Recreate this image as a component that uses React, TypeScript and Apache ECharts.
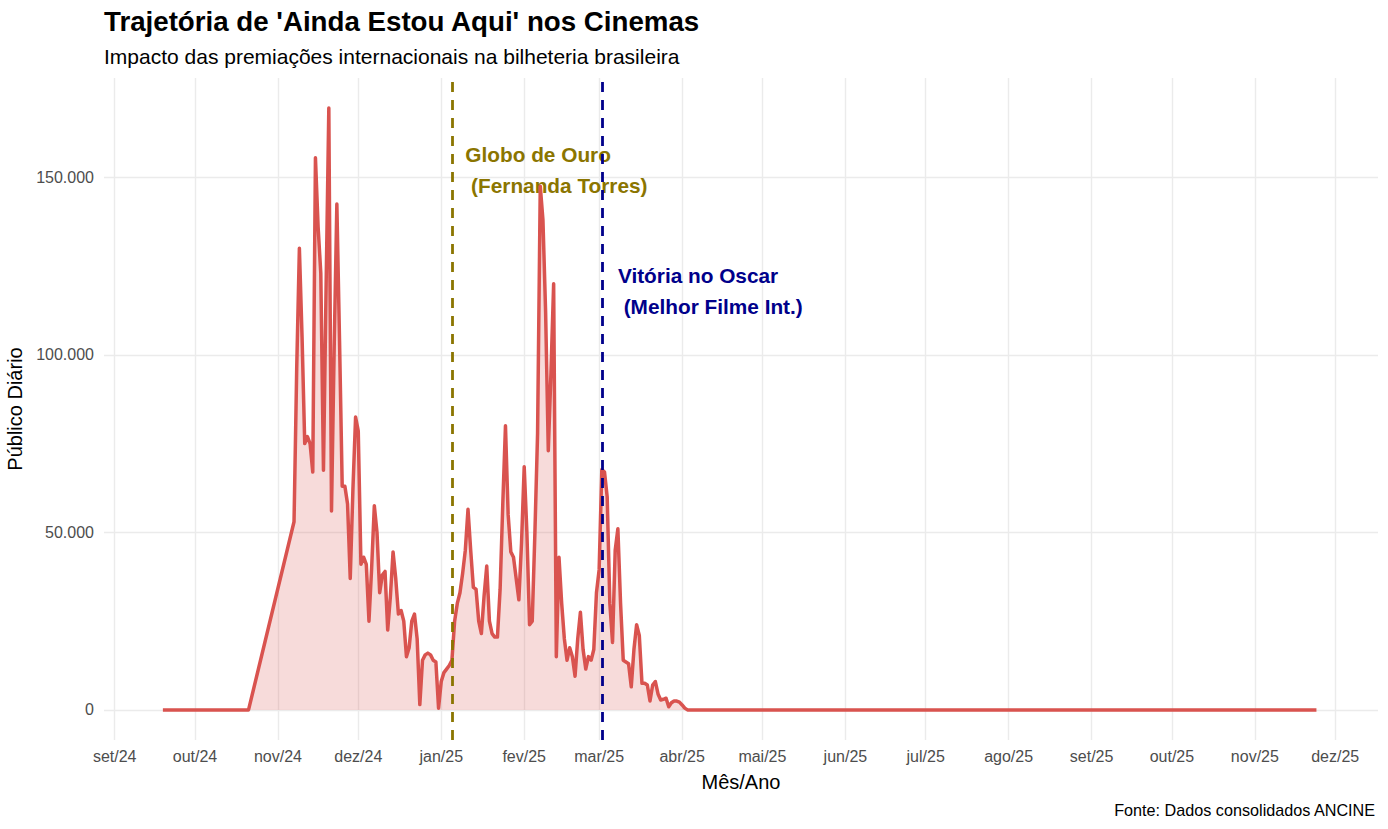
import React, { useEffect, useRef } from 'react';
import * as echarts from 'echarts';

const FONT = "'Liberation Sans', Arial, Helvetica, sans-serif";

// ---- text ----
const titleText = "Trajetória de 'Ainda Estou Aqui' nos Cinemas";
const subtitleText = 'Impacto das premiações internacionais na bilheteria brasileira';
const captionText = 'Fonte: Dados consolidados ANCINE';
const xAxisTitle = 'Mês/Ano';
const yAxisTitle = 'Público Diário';

// ---- ticks ----
const monthAbbr = ['jan', 'fev', 'mar', 'abr', 'mai', 'jun', 'jul', 'ago', 'set', 'out', 'nov', 'dez'];
const xTickDates = [
  '2024-09-01', '2024-10-01', '2024-11-01', '2024-12-01', '2025-01-01', '2025-02-01',
  '2025-03-01', '2025-04-01', '2025-05-01', '2025-06-01', '2025-07-01', '2025-08-01',
  '2025-09-01', '2025-10-01', '2025-11-01', '2025-12-01',
];
const yTicks = [0, 50000, 100000, 150000];
const xRange = ['2024-08-28', '2025-12-17'];
const yRange = [-8475, 177975];

// ---- data: daily audience ----
const preReleaseDates = ['2024-09-19', '2024-10-21'];
const preReleaseValues = [0, 0];

// daily values, first value = start date
const nov2024Start = '2024-11-07';
const nov2024 = [
  53000, 96000, 130000, 105000, 75000, 77000, 75000, 67000, 155500, 136000,
  123000, 67500, 120000, 169500, 56000, 102000, 142500, 104000, 63000, 63000,
  58000, 37000, 62000, 82500,
];
const dec2024Start = '2024-12-01';
const dec2024 = [
  78500, 41000, 43000, 41000, 25000, 40000, 57500, 50000, 33000, 38000,
  39000, 22500, 32000, 44500, 37000, 27000, 28000, 25000, 15000, 17500,
  25000, 27000, 20000, 1500, 14000, 15500, 16000, 15500, 14000, 13500,
  500,
];
const jan2025Start = '2025-01-01';
const jan2025 = [
  8000, 10500, 11500, 12500, 14000, 25000, 30000, 33000, 38500, 45000,
  56500, 45000, 34500, 34000, 25000, 21500, 32000, 40500, 25000, 21500,
  20500, 20500, 34000, 58000, 80000, 55000, 44500, 43000, 37000, 31000,
  47000,
];
const feb2025Start = '2025-02-01';
const feb2025 = [
  68500, 50000, 24000, 25000, 50000, 78000, 147500, 138000, 112000, 73000,
  95000, 120000, 15000, 43000, 30000, 20000, 14000, 17500, 15000, 9500,
  20000, 27500, 17000, 11500, 15000, 14000, 17000, 33000,
];
const mar2025Start = '2025-03-01';
const mar2025 = [
  39500, 67700, 67000, 60000, 30000, 19000, 45000, 51000, 30000, 14000,
  13500, 13000, 6500, 17000, 24000, 21000, 7500, 7500, 7000, 2500,
  7000, 8000, 4500, 2800, 3000, 3300, 900, 2000, 2500, 2500,
  2200,
];
const apr2025Start = '2025-04-01';
const apr2025 = [1400, 500, 0];

const endRunDates = ['2025-11-24'];
const endRunValues = [0];

// ---- events ----
const eventDates = ['2025-01-05', '2025-03-02'];
const eventColors = ['#8B7500', '#00008B'];
const annotationTexts = ['Globo de Ouro\n (Fernanda Torres)', 'Vitória no Oscar\n (Melhor Filme Int.)'];
const annotationDates = ['2025-01-10', '2025-03-08'];
const annotationValues = [152000, 118000];

function toTs(s: string): number {
  const [y, m, d] = s.split('-').map(Number);
  return new Date(y, m - 1, d).getTime();
}

function blockToPoints(start: string, values: number[]): [number, number][] {
  const [y, m, d] = start.split('-').map(Number);
  return values.map((v, i) => [new Date(y, m - 1, d + i).getTime(), v]);
}

function fmtThousands(v: number): string {
  const s = String(Math.round(Math.abs(v)));
  const out = s.replace(/\B(?=(\d{3})+(?!\d))/g, '.');
  return (v < 0 ? '-' : '') + out;
}

function buildSeriesData(): [number, number][] {
  const pts: [number, number][] = [];
  preReleaseDates.forEach((d, i) => pts.push([toTs(d), preReleaseValues[i]]));
  pts.push(...blockToPoints(nov2024Start, nov2024));
  pts.push(...blockToPoints(dec2024Start, dec2024));
  pts.push(...blockToPoints(jan2025Start, jan2025));
  pts.push(...blockToPoints(feb2025Start, feb2025));
  pts.push(...blockToPoints(mar2025Start, mar2025));
  pts.push(...blockToPoints(apr2025Start, apr2025));
  endRunDates.forEach((d, i) => pts.push([toTs(d), endRunValues[i]]));
  return pts;
}

export default function App() {
  const ref = useRef<HTMLDivElement>(null);

  useEffect(() => {
    if (!ref.current) return;
    const chart = echarts.init(ref.current, undefined, { renderer: 'svg' });
    const xTicks = xTickDates.map(toTs);

    const option: any = {
      animation: false,
      backgroundColor: '#ffffff',
      textStyle: { fontFamily: FONT },
      title: [
        {
          text: titleText, left: 104, top: 7, padding: 0,
          textStyle: { fontFamily: FONT, fontSize: 27.7, fontWeight: 'bold', color: '#000000' },
        },
        {
          text: subtitleText, left: 104, top: 46, padding: 0,
          textStyle: { fontFamily: FONT, fontSize: 21, fontWeight: 'normal', color: '#000000' },
        },
        {
          text: captionText, right: 12, top: 802, padding: 0,
          textStyle: { fontFamily: FONT, fontSize: 16.2, fontWeight: 'normal', color: '#000000' },
        },
      ],
      grid: {
        left: 104, right: 10, top: 78, bottom: 89,
        containLabel: false, outerBoundsMode: 'none',
      },
      xAxis: {
        type: 'value',
        min: toTs(xRange[0]),
        max: toTs(xRange[1]),
        name: xAxisTitle,
        nameLocation: 'middle',
        nameGap: 32,
        nameTextStyle: { fontFamily: FONT, fontSize: 20, color: '#000000' },
        axisLine: { show: false },
        axisTick: { show: false, customValues: xTicks },
        axisLabel: {
          customValues: xTicks,
          margin: 8,
          fontFamily: FONT,
          fontSize: 16,
          color: '#4D4D4D',
          formatter: (val: number) => {
            const d = new Date(val);
            return monthAbbr[d.getMonth()] + '/' + String(d.getFullYear()).slice(2);
          },
        },
        splitLine: { show: true, lineStyle: { color: '#EBEBEB', width: 1.4 } },
      },
      yAxis: {
        type: 'value',
        min: yRange[0],
        max: yRange[1],
        name: yAxisTitle,
        nameLocation: 'middle',
        nameGap: 65,
        nameTextStyle: { fontFamily: FONT, fontSize: 20, color: '#000000' },
        axisLine: { show: false },
        axisTick: { show: false, customValues: yTicks },
        axisLabel: {
          customValues: yTicks,
          margin: 10,
          fontFamily: FONT,
          fontSize: 16,
          color: '#4D4D4D',
          formatter: (v: number) => fmtThousands(v),
        },
        splitLine: { show: true, lineStyle: { color: '#EBEBEB', width: 1.4 } },
      },
      series: [
        {
          type: 'line',
          data: buildSeriesData(),
          showSymbol: false,
          symbol: 'none',
          lineStyle: { color: '#D9534F', width: 3.5, join: 'round' },
          itemStyle: { color: '#D9534F' },
          areaStyle: { color: 'rgba(217,83,79,0.21)', opacity: 1 },
          z: 3,
          markLine: {
            silent: true,
            symbol: ['none', 'none'],
            label: { show: false },
            z: 4,
            data: eventDates.map((d, i) => ({
              xAxis: toTs(d),
              lineStyle: { color: eventColors[i], width: 2.8, type: [10, 8] },
            })),
          },
          markPoint: {
            silent: true,
            symbol: 'circle',
            symbolSize: 1,
            itemStyle: { color: 'rgba(0,0,0,0)' },
            z: 1,
            data: annotationTexts.map((t, i) => ({
              coord: [toTs(annotationDates[i]), annotationValues[i]],
              label: {
                show: true,
                position: 'inside',
                align: 'left',
                verticalAlign: 'middle',
                formatter: t,
                color: eventColors[i],
                fontFamily: FONT,
                fontSize: 20.8,
                fontWeight: 'bold',
                lineHeight: 31,
              },
            })),
          },
        },
      ],
    };

    chart.setOption(option);
    return () => chart.dispose();
  }, []);

  return (
    <div style={{ position: 'fixed', left: 0, top: 0, width: 1388, height: 829, background: '#fff' }}>
      <div ref={ref} style={{ width: 1388, height: 829 }} />
    </div>
  );
}
